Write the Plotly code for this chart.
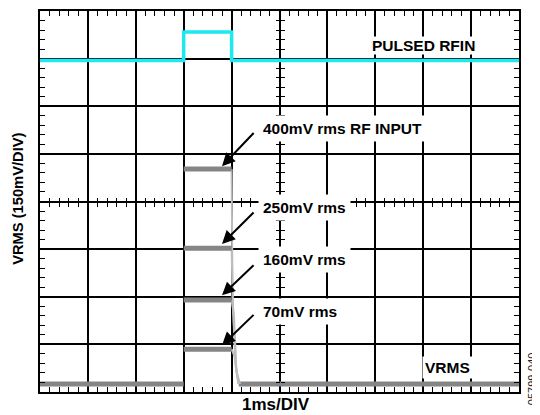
import plotly.graph_objects as go

# ── Data (scope divisions: x = 1 ms/div, y = 150 mV/div) ─────────────────────

PULSE_X = [3.0, 4.0]                       # pulse on / off (ms)
RFIN_X = [0.0, 3.0, 3.0, 4.0, 4.0, 10.0]
RFIN_Y = [6.96, 6.96, 7.56, 7.56, 6.96, 6.96]

LABELS = ["400mV rms RF INPUT", "250mV rms", "160mV rms", "70mV rms"]
LEVELS = [4.68, 3.02, 1.93, 0.90]          # VRMS plateau per input level
BASE = 0.17                                # VRMS floor

FALL_X = [
    [4.00, 4.02, 4.08, 4.14],
    [4.00, 4.03, 4.09, 4.15],
    [4.00, 4.05, 4.10, 4.16],
    [4.00, 4.06, 4.12, 4.18],
]
FALL_Y = [
    [4.68, 2.00, 0.60, 0.17],
    [3.02, 1.80, 0.50, 0.17],
    [1.93, 1.60, 0.45, 0.17],
    [0.90, 0.75, 0.35, 0.17],
]
BASE_X = [[0.0, 3.0], [4.15, 10.0]]

# arrow head / tail and label position (divisions)
ARROW_HEAD = [(3.80, 4.74), (3.80, 3.11), (3.80, 2.03), (3.80, 0.98)]
ARROW_TAIL = [(4.49, 5.47), (4.49, 3.80), (4.49, 2.69), (4.49, 1.65)]
LABEL_POS = [(4.56, 5.53), (4.56, 3.87), (4.56, 2.78), (4.56, 1.69)]

# ── Theme ────────────────────────────────────────────────────────────────────

FONT = "Liberation Sans, Arial, sans-serif"
CYAN = "#1ee8f0"
GRAY = "#858585"
LIGHT = "#bdbdbd"

fig = go.Figure()

fig.add_trace(go.Scatter(x=RFIN_X, y=RFIN_Y, mode="lines",
                         line=dict(color=CYAN, width=3.5)))

for bx in BASE_X:
    fig.add_trace(go.Scatter(x=bx, y=[BASE, BASE], mode="lines",
                             line=dict(color=GRAY, width=5)))

for lvl, fx, fy in zip(LEVELS, FALL_X, FALL_Y):
    fig.add_trace(go.Scatter(x=fx, y=fy, mode="lines",
                             line=dict(color=LIGHT, width=2)))
    fig.add_trace(go.Scatter(x=PULSE_X, y=[lvl, lvl], mode="lines",
                             line=dict(color=GRAY, width=5)))

# empty traces so the tick-only helper axes get drawn
for xa, ya in [("x2", "y"), ("x3", "y"), ("x4", "y"), ("x", "y2"), ("x", "y3"), ("x", "y4")]:
    fig.add_trace(go.Scatter(x=[None], y=[None], xaxis=xa, yaxis=ya,
                             mode="lines", hoverinfo="skip"))

annos = []
for (hx, hy), (tx, ty), (lx, ly), txt in zip(ARROW_HEAD, ARROW_TAIL, LABEL_POS, LABELS):
    annos.append(dict(x=lx, y=ly, xref="x", yref="y", text=f"<b>{txt}</b>", showarrow=False,
                      xanchor="left", yanchor="middle", bgcolor="white", borderpad=4,
                      font=dict(family=FONT, size=15.5, color="black")))
    annos.append(dict(x=hx, y=hy, xref="x", yref="y", ax=tx, ay=ty,
                      axref="x", ayref="y", text="", showarrow=True,
                      arrowhead=2, arrowsize=1.3, arrowwidth=2, arrowcolor="black"))

annos += [
    dict(x=8.0, y=7.27, xref="x", yref="y", text="<b>PULSED RFIN</b>", showarrow=False,
         xanchor="center", yanchor="middle", bgcolor="white", borderpad=0,
         font=dict(family=FONT, size=15.5, color="black")),
    dict(x=8.5, y=0.52, xref="x", yref="y", text="<b>VRMS</b>", showarrow=False,
         xanchor="center", yanchor="middle", bgcolor="white", borderpad=2,
         font=dict(family=FONT, size=15.5, color="black")),
    dict(x=0.493, y=-0.034, xref="paper", yref="paper", text="<b>1ms/DIV</b>",
         xanchor="center", yanchor="middle", showarrow=False,
         font=dict(family=FONT, size=17, color="black")),
    dict(x=-0.046, y=0.507, xref="paper", yref="paper", text="<b>VRMS (150mV/DIV)</b>",
         xanchor="center", yanchor="middle", textangle=-90, showarrow=False,
         font=dict(family=FONT, size=14.7, color="black")),
    dict(x=1.027, y=0.036, xref="paper", yref="paper", text="05799-040",
         xanchor="center", yanchor="middle", textangle=-90, showarrow=False,
         font=dict(family=FONT, size=11, color="#222222")),
]

MINOR_IN = dict(dtick=0.2, ticks="inside", ticklen=5, tickcolor="black", tickwidth=1, showgrid=False)
frame = dict(showgrid=True, gridcolor="black", gridwidth=1.5, dtick=1, tick0=0,
             showticklabels=False, ticks="", showline=True, linecolor="black",
             linewidth=2, mirror=True, zeroline=False, minor=MINOR_IN)
helper = dict(showgrid=False, showline=False, showticklabels=False, ticks="",
              zeroline=False, dtick=1, tick0=0)


def cross(side):
    return dict(dtick=0.2, ticks=side, ticklen=4, tickcolor="black", tickwidth=1)


fig.update_layout(
    width=532, height=407,
    margin=dict(l=32, r=21, t=1, b=23),
    paper_bgcolor="white", plot_bgcolor="white",
    showlegend=False,
    annotations=annos,
    xaxis=dict(range=[0, 10], **frame),
    yaxis=dict(range=[0, 8], **frame),
    xaxis2=dict(overlaying="x", range=[0, 10], anchor="free", position=0.5,
                minor=cross("inside"), **helper),
    xaxis3=dict(overlaying="x", range=[0, 10], anchor="free", position=0.5,
                minor=cross("outside"), **helper),
    xaxis4=dict(overlaying="x", range=[0, 10], anchor="y", side="top",
                minor=MINOR_IN, **helper),
    yaxis2=dict(overlaying="y", range=[0, 8], anchor="free", position=0.5,
                minor=cross("inside"), **helper),
    yaxis3=dict(overlaying="y", range=[0, 8], anchor="free", position=0.5,
                minor=cross("outside"), **helper),
    yaxis4=dict(overlaying="y", range=[0, 8], anchor="x", side="right",
                minor=MINOR_IN, **helper),
)

fig.write_html("out.html")
